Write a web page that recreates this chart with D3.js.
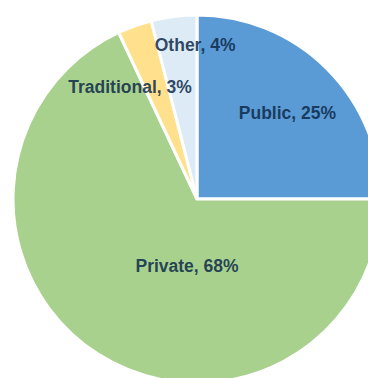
<!DOCTYPE html>
<html>
<head>
<meta charset="utf-8">
<script src="https://cdn.jsdelivr.net/npm/d3@7"></script>
<style>
  html, body { margin: 0; padding: 0; background: #ffffff; overflow: hidden; }
  svg { display: block; }
</style>
</head>
<body>
<script>
// Share of each sector (percent)
const categories = ["Public", "Private", "Traditional", "Other"];
const shares = [25, 68, 3, 4];
const sliceColors = ["#5B9BD5", "#A9D18E", "#FFE08C", "#DDEBF7"];

// Label placement in polar terms: angle (degrees, clockwise from top) and fraction of radius
const labelAngles = [46.1, 188.6, -30.8, -0.7];
const labelRadii = [0.682, 0.363, 0.711, 0.842];

const width = 368, height = 378;
const cx = 197, cy = 199, radius = 184;

const data = categories.map((c, i) => ({ name: c, value: shares[i], color: sliceColors[i], i }));

const svg = d3.select("body").append("svg")
  .attr("width", width)
  .attr("height", height);

const g = svg.append("g").attr("transform", `translate(${cx},${cy})`);

const pie = d3.pie().value(d => d.value).sort(null);
const arc = d3.arc().innerRadius(0).outerRadius(radius);

g.selectAll("path.slice")
  .data(pie(data))
  .join("path")
  .attr("class", "slice")
  .attr("d", arc)
  .attr("fill", d => d.data.color)
  .attr("stroke", "#ffffff")
  .attr("stroke-width", 3)
  .attr("stroke-linejoin", "miter");

// Labels: "Name, value%"
const toRad = d3.scaleLinear().domain([0, 360]).range([0, 2 * Math.PI]);
g.selectAll("text.label")
  .data(data)
  .join("text")
  .attr("class", "label")
  .attr("x", d => Math.sin(toRad(labelAngles[d.i])) * radius * labelRadii[d.i])
  .attr("y", d => -Math.cos(toRad(labelAngles[d.i])) * radius * labelRadii[d.i] + 6.5)
  .attr("text-anchor", "middle")
  .attr("font-family", "'Liberation Sans', Arial, sans-serif")
  .attr("font-weight", "bold")
  .attr("font-size", 17.5)
  .attr("fill", "#0d2a4a")
  .attr("fill-opacity", 0.86)
  .text(d => `${d.name}, ${d.value}%`);
</script>
</body>
</html>
